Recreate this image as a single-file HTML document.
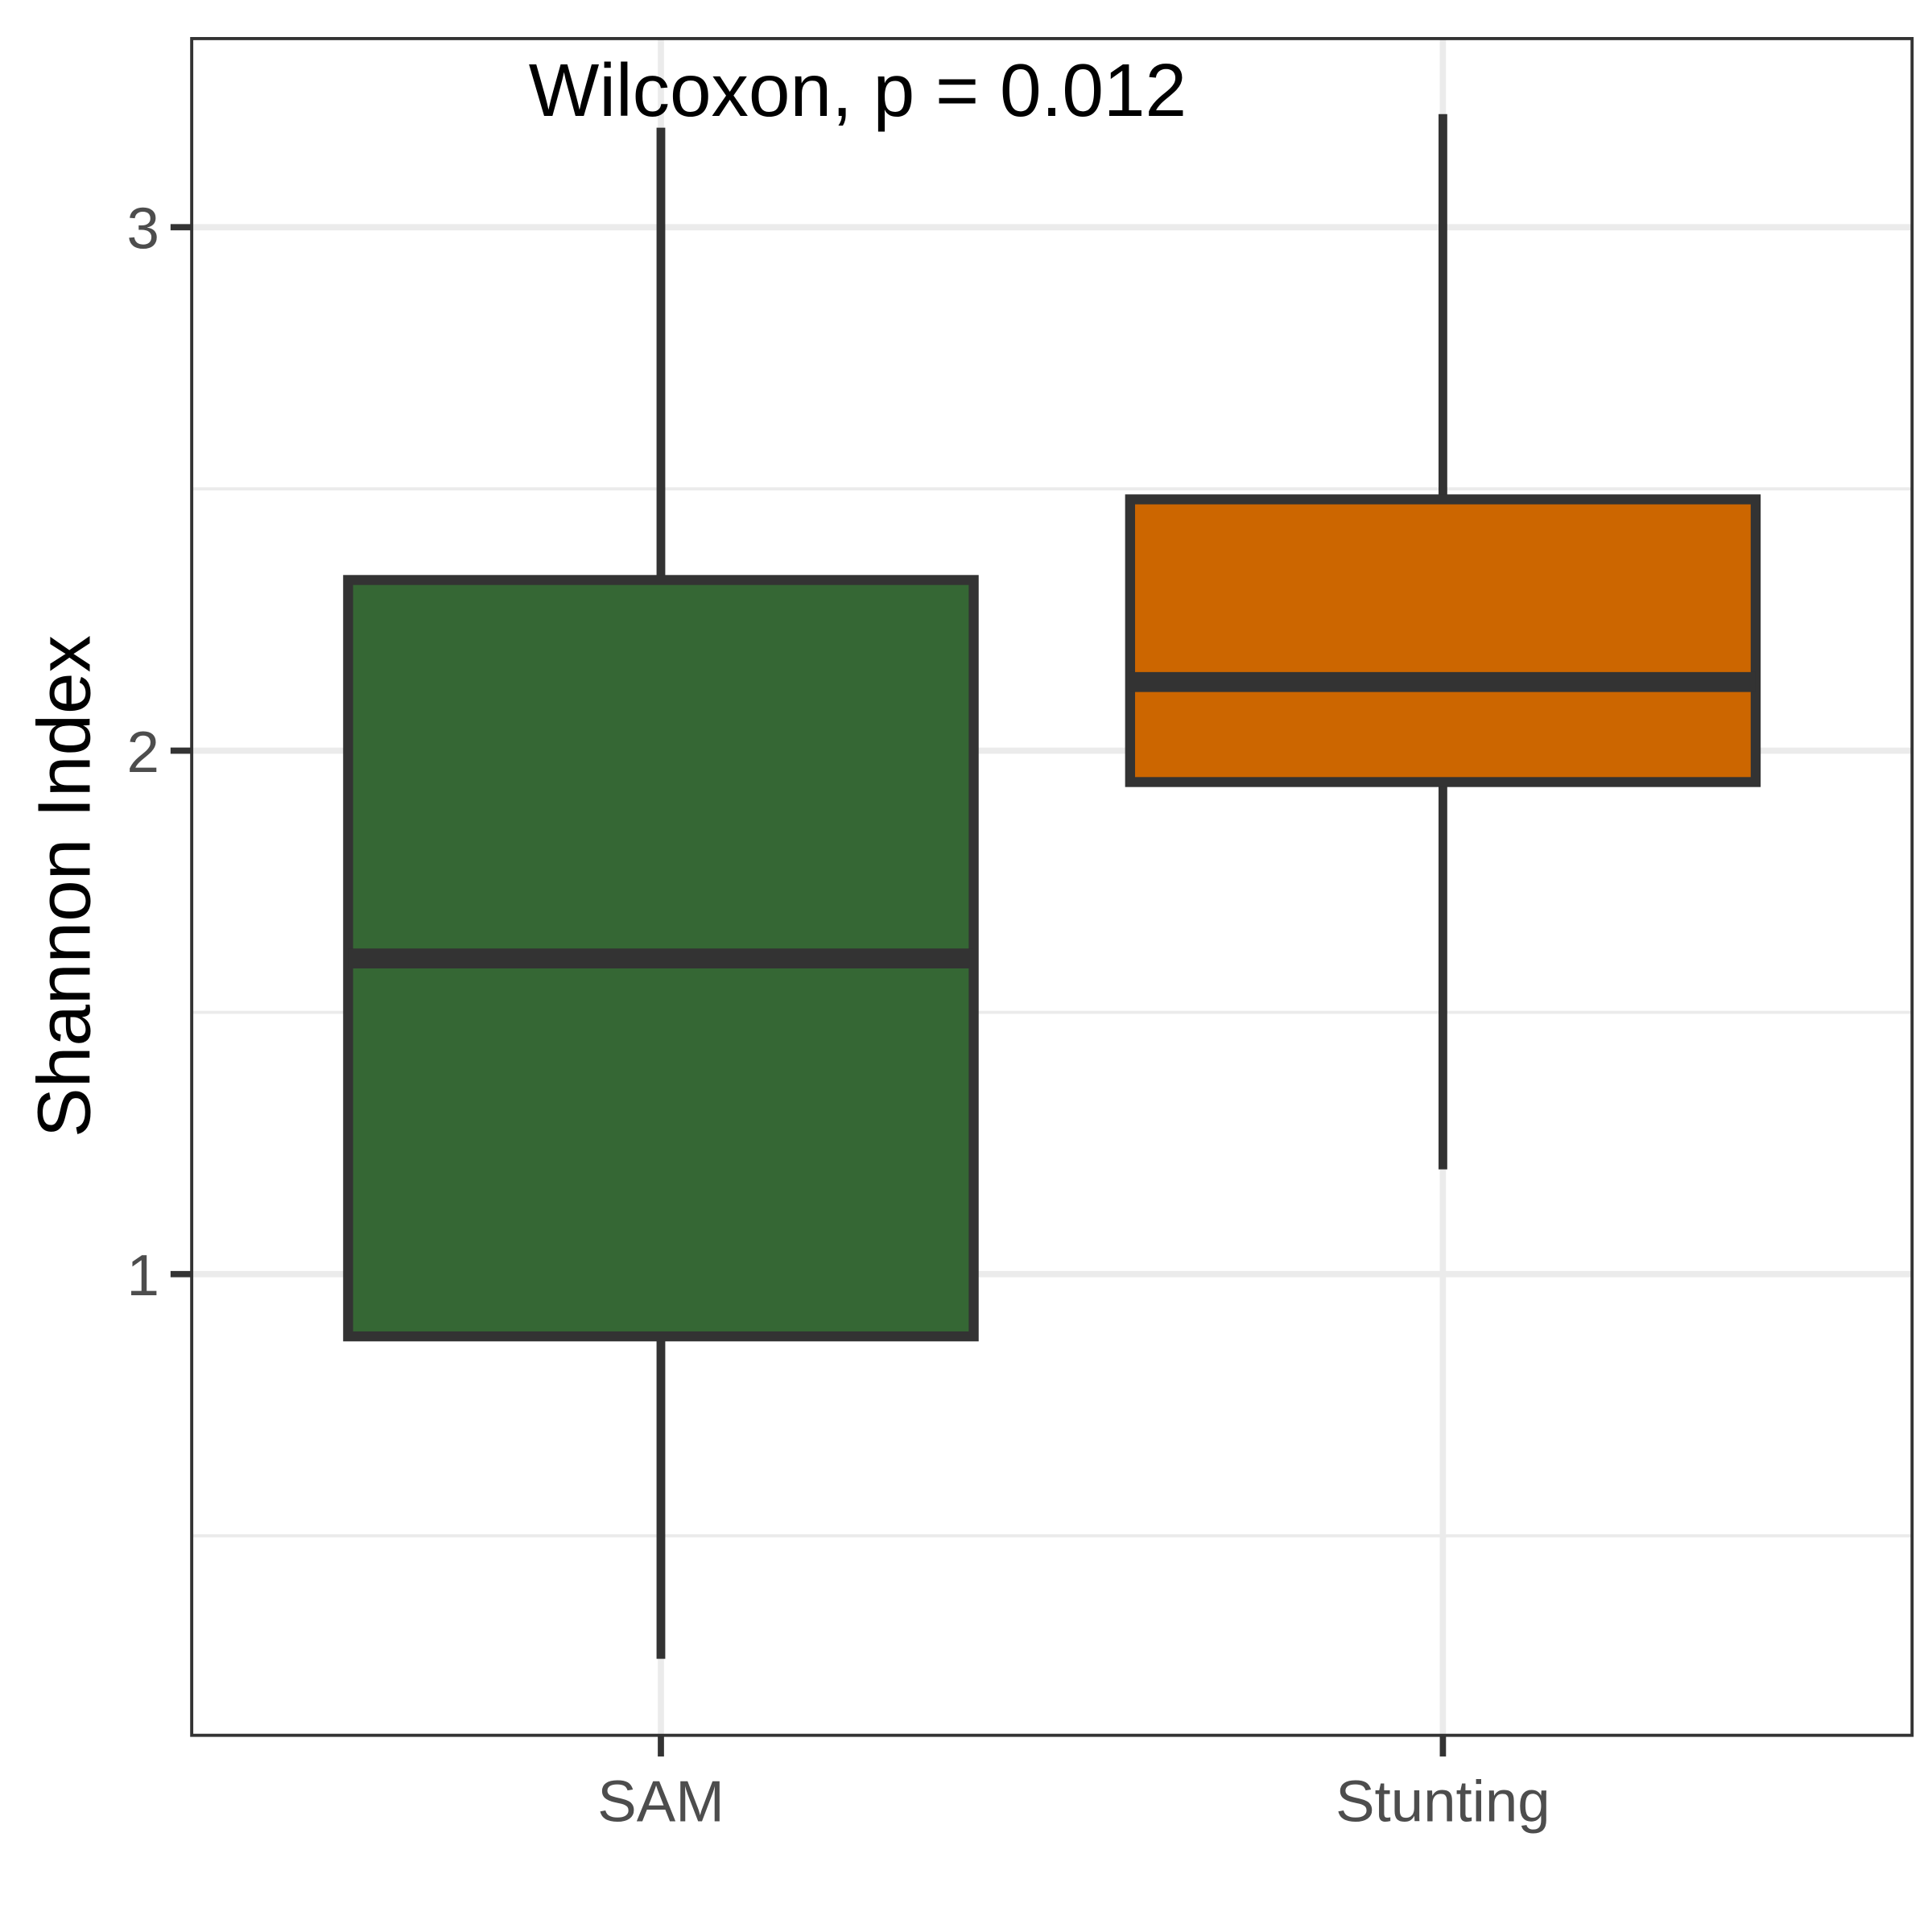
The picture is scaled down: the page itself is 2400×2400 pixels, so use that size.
<!DOCTYPE html>
<html><head><meta charset="utf-8"><style>html,body{margin:0;padding:0;background:#fff}svg{display:block}</style></head>
<body>
<svg id="chart" width="2400" height="2400" viewBox="0 0 1552 1552" xmlns="http://www.w3.org/2000/svg" font-family="Liberation Sans, Arial, sans-serif">
<g id="grid"></g><g id="marks"></g><g id="axes"></g>
</svg>
<script>
const categories = ["SAM", "Stunting"];
const q1 = [0.881, 1.94];
const median = [1.603, 2.131];
const q3 = [2.326, 2.48];
const whiskerLow = [0.265, 1.2];
const whiskerHigh = [3.19, 3.216];
const fills = ["#356734", "#cc6600"];
const yTicks = [1, 2, 3];
const yMinor = [0.5, 1.5, 2.5];
const annotation = "Wilcoxon, p = 0.012";

const L=154,R=1536,T=31,B=1394;
const y=v=>603-(v-2)*420.5;
const band=(R-L)/2.2;
const x=i=>L+band*0.6+i*band;
const bw=band*0.8;
const NS="http://www.w3.org/2000/svg";
function mk(parent,tag,attrs){const e=document.createElementNS(NS,tag);for(const k in attrs)e.setAttribute(k,attrs[k]);document.getElementById(parent).appendChild(e);return e;}

yMinor.forEach(v=>{const e=mk('grid','line',{x1:L,x2:R,y1:y(v),y2:y(v),stroke:'#ebebeb','stroke-width':2.5});

});
yTicks.forEach(v=>{const e=mk('grid','line',{x1:L,x2:R,y1:y(v),y2:y(v),stroke:'#ebebeb','stroke-width':5});

});
categories.forEach((c,i)=>{const e=mk('grid','line',{x1:x(i),x2:x(i),y1:T,y2:B,stroke:'#ebebeb','stroke-width':5});

});

categories.forEach((c,i)=>{
 const w1=mk('marks','line',{x1:x(i),x2:x(i),y1:y(whiskerHigh[i]),y2:y(q3[i]),stroke:'#333','stroke-width':7});
 
 
 const w2=mk('marks','line',{x1:x(i),x2:x(i),y1:y(q1[i]),y2:y(whiskerLow[i]),stroke:'#333','stroke-width':7});
 
 
 const b=mk('marks','rect',{x:x(i)-bw/2,y:y(q3[i]),width:bw,height:y(q1[i])-y(q3[i]),fill:fills[i],stroke:'#333','stroke-width':8});
 
 
 const m=mk('marks','line',{x1:x(i)-bw/2,x2:x(i)+bw/2,y1:y(median[i]),y2:y(median[i]),stroke:'#333','stroke-width':16});
 
 
 const t=mk('axes','line',{x1:x(i),x2:x(i),y1:B,y2:B+17,stroke:'#333','stroke-width':5});
 
 
 const lb=mk('axes','text',{x:x(i),y:1463,'text-anchor':'middle','font-size':47,fill:'#4d4d4d'});
 lb.textContent=c;
 
 
});
yTicks.forEach(v=>{
 const t=mk('axes','line',{x1:L-17,x2:L,y1:y(v),y2:y(v),stroke:'#333','stroke-width':5});
 
 
 const lb=mk('axes','text',{x:L-26,y:y(v)+17,'text-anchor':'end','font-size':47,fill:'#4d4d4d'});
 lb.textContent=v;
 
 
});
const fr=mk('axes','rect',{x:L,y:T,width:R-L,height:B-T,fill:'none',stroke:'#333','stroke-width':2.5});


const yt=mk('axes','text',{x:0,y:0,transform:'translate(72,712) rotate(-90)','text-anchor':'middle','font-size':60,fill:'#000'});
yt.textContent='Shannon Index';


const an=mk('axes','text',{x:689,y:93,'text-anchor':'middle','font-size':60,fill:'#000'});
an.textContent=annotation;


</script>
</body></html>
